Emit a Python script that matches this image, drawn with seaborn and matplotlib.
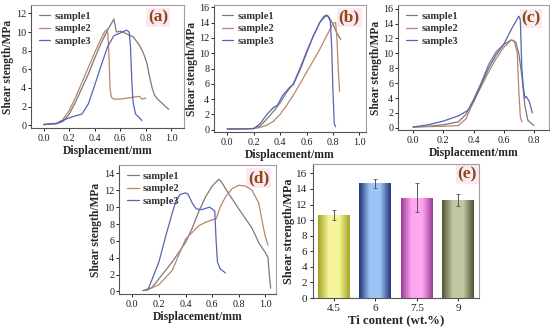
import numpy as np
import pandas as pd
import matplotlib
matplotlib.use("Agg")
import matplotlib.pyplot as plt
from matplotlib.ticker import MultipleLocator, FormatStrFormatter
from matplotlib.colors import LinearSegmentedColormap
import seaborn as sns

# ---------------- data ----------------
samples = ["sample1", "sample2", "sample3"]

# panel (a)
a_s1_x = [0.0, 0.1, 0.15, 0.2, 0.25, 0.3, 0.35, 0.4, 0.45, 0.5, 0.53, 0.55, 0.57, 0.6, 0.65, 0.7, 0.75, 0.78, 0.81, 0.83, 0.85, 0.87, 0.9, 0.94, 0.98]
a_s1_y = [0.05, 0.15, 0.4, 1.2, 2.5, 4.0, 5.5, 7.2, 8.8, 10.2, 10.9, 11.4, 10.0, 10.1, 9.8, 9.5, 8.6, 7.8, 6.6, 5.2, 4.0, 3.2, 2.7, 2.2, 1.7]
a_s2_x = [0.0, 0.1, 0.15, 0.2, 0.25, 0.3, 0.35, 0.4, 0.45, 0.48, 0.5, 0.51, 0.52, 0.53, 0.55, 0.6, 0.65, 0.7, 0.75, 0.77, 0.8]
a_s2_y = [0.05, 0.2, 0.6, 1.6, 3.0, 4.6, 6.2, 7.8, 9.3, 10.1, 10.3, 8.0, 4.0, 3.0, 2.8, 2.8, 2.9, 3.0, 3.1, 2.8, 2.9]
a_s3_x = [0.0, 0.1, 0.15, 0.2, 0.25, 0.3, 0.35, 0.4, 0.45, 0.5, 0.55, 0.6, 0.65, 0.67, 0.68, 0.69, 0.7, 0.72, 0.75, 0.77]
a_s3_y = [0.1, 0.2, 0.5, 0.8, 1.0, 1.2, 2.3, 4.3, 6.4, 8.4, 9.6, 9.9, 10.2, 10.0, 8.5, 5.0, 2.5, 1.2, 0.8, 0.5]

# panel (b)
b_s1_x = [0.0, 0.1, 0.2, 0.25, 0.3, 0.35, 0.4, 0.45, 0.5, 0.55, 0.6, 0.65, 0.7, 0.73, 0.75, 0.77, 0.8, 0.83, 0.86]
b_s1_y = [0.1, 0.1, 0.15, 0.5, 1.4, 2.4, 3.5, 4.9, 6.0, 8.0, 10.2, 12.2, 14.0, 14.8, 15.0, 14.7, 13.8, 12.6, 11.8]
b_s2_x = [0.0, 0.1, 0.2, 0.25, 0.3, 0.35, 0.4, 0.45, 0.5, 0.55, 0.6, 0.65, 0.7, 0.75, 0.78, 0.8, 0.82, 0.83, 0.84, 0.85]
b_s2_y = [0.1, 0.1, 0.15, 0.3, 0.6, 1.1, 2.0, 3.2, 4.5, 6.0, 7.5, 9.0, 10.5, 12.2, 13.2, 13.9, 14.0, 12.0, 8.0, 5.0]
b_s3_x = [0.0, 0.1, 0.2, 0.25, 0.3, 0.35, 0.38, 0.42, 0.47, 0.5, 0.55, 0.6, 0.65, 0.7, 0.74, 0.76, 0.78, 0.79, 0.8, 0.81, 0.82]
b_s3_y = [0.1, 0.1, 0.15, 0.8, 2.0, 2.9, 3.2, 4.5, 5.5, 5.9, 7.8, 10.0, 12.2, 14.0, 14.8, 14.9, 14.2, 11.0, 5.0, 0.8, 0.4]

# panel (c)
c_s1_x = [0.0, 0.1, 0.2, 0.3, 0.35, 0.4, 0.45, 0.5, 0.55, 0.6, 0.65, 0.68, 0.7, 0.72, 0.74, 0.76, 0.8]
c_s1_y = [0.1, 0.2, 0.4, 0.8, 1.8, 3.8, 6.0, 8.5, 10.2, 11.2, 11.8, 11.5, 10.0, 7.0, 3.0, 1.0, 0.3]
c_s2_x = [0.0, 0.2, 0.3, 0.35, 0.4, 0.45, 0.5, 0.55, 0.6, 0.65, 0.67, 0.69, 0.7, 0.71, 0.72]
c_s2_y = [0.1, 0.2, 0.3, 1.2, 3.5, 5.5, 7.5, 9.3, 10.8, 11.8, 11.7, 10.0, 5.0, 1.5, 0.8]
c_s3_x = [0.0, 0.1, 0.2, 0.3, 0.36, 0.4, 0.45, 0.5, 0.55, 0.6, 0.65, 0.7, 0.71, 0.72, 0.73, 0.74, 0.75, 0.77, 0.79]
c_s3_y = [0.1, 0.4, 0.9, 1.6, 2.3, 3.5, 5.8, 8.0, 9.8, 11.2, 13.2, 15.0, 14.5, 8.0, 5.5, 4.0, 4.2, 3.5, 2.0]

# panel (d)
d_s1_x = [0.1, 0.15, 0.2, 0.3, 0.4, 0.45, 0.5, 0.55, 0.6, 0.65, 0.67, 0.7, 0.75, 0.8, 0.9, 0.95, 1.0, 1.02, 1.03, 1.04]
d_s1_y = [0.1, 0.5, 1.5, 3.5, 5.8, 7.5, 9.5, 11.2, 12.5, 13.3, 13.0, 12.2, 11.0, 9.8, 7.5, 5.8, 4.6, 4.0, 2.0, 0.4]
d_s2_x = [0.1, 0.2, 0.3, 0.4, 0.45, 0.5, 0.55, 0.6, 0.63, 0.66, 0.7, 0.75, 0.8, 0.85, 0.9, 0.95, 0.98, 1.0, 1.02]
d_s2_y = [0.1, 0.8, 2.5, 6.2, 7.0, 7.8, 8.2, 8.5, 8.6, 10.0, 11.2, 12.2, 12.6, 12.5, 12.0, 10.5, 8.0, 6.5, 5.5]
d_s3_x = [0.08, 0.12, 0.15, 0.2, 0.25, 0.3, 0.33, 0.36, 0.4, 0.42, 0.45, 0.48, 0.52, 0.58, 0.6, 0.62, 0.63, 0.64, 0.66, 0.7]
d_s3_y = [0.1, 0.3, 1.5, 3.5, 6.5, 9.3, 10.8, 11.5, 11.7, 11.5, 10.5, 9.8, 9.7, 10.0, 9.8, 9.5, 6.0, 3.5, 2.7, 2.2]

# panel (e)
ti_content = ["4.5", "6", "7.5", "9"]
shear_mean = [10.7, 14.7, 12.9, 12.6]
shear_err = [0.65, 0.6, 1.8, 0.8]

line_colors = {"sample1": "#7a7a7a", "sample2": "#b8866a", "sample3": "#5664b4"}
bar_edges = ["#a4a21e", "#1f3278", "#9a3d96", "#4d5230"]
bar_centers = ["#f6f59a", "#9cc4f6", "#ffa6f2", "#c2c8a2"]

# ---------------- style ----------------
sns.set_theme(style="ticks")
plt.rcParams["font.family"] = ["Liberation Serif", "DejaVu Serif"]
plt.rcParams["axes.edgecolor"] = "#666666"

fig = plt.figure(figsize=(5.5, 3.28), dpi=100)
fig.patch.set_facecolor("white")

def px_axes(l, t, r, b):
    return fig.add_axes([l / 550, 1 - b / 328, (r - l) / 550, (b - t) / 328])

def long_df(xs, ys):
    rows = []
    for name, x, y in zip(samples, xs, ys):
        for i, (xi, yi) in enumerate(zip(x, y)):
            rows.append({"x": xi, "y": yi, "sample": name, "order": i})
    return pd.DataFrame(rows)

def frame(ax):
    for s in ["top", "right"]:
        ax.spines[s].set_visible(True)
        ax.spines[s].set_color("#a0a0a0")
    for s in ["left", "bottom"]:
        ax.spines[s].set_color("#555555")
    for s in ax.spines.values():
        s.set_linewidth(0.8)

def style_axes(ax, xlim, ylim, xmax_tick, ylabel, xlabel):
    ax.set_xlim(*xlim)
    ax.set_ylim(*ylim)
    ax.yaxis.set_major_locator(MultipleLocator(2))
    ax.set_xticks(np.round(np.arange(0, xmax_tick + 0.01, 0.2), 1))
    ax.xaxis.set_major_formatter(FormatStrFormatter("%.1f"))
    ax.yaxis.set_major_formatter(FormatStrFormatter("%d"))
    ax.tick_params(axis="both", direction="out", length=2.5, width=0.7,
                   labelsize=7.3, pad=1.5, colors="#222222", labelcolor="#222222")
    ax.tick_params(axis="y", pad=1)
    frame(ax)
    ax.set_xlabel(xlabel, fontsize=8.4, fontweight="bold", labelpad=2)
    ax.set_ylabel(ylabel, fontsize=8.3, fontweight="bold", labelpad=1)

def panel_label(ax, txt, x, y):
    ax.text(x, y, txt, transform=ax.transAxes, ha="center", va="center",
            fontsize=12.5, fontweight="bold", color="#8a4a14", zorder=0.5,
            bbox=dict(boxstyle="square,pad=0.1", fc="#fce8f2", ec="none"))

def line_panel(ax, xs, ys, xlim, ylim, xmax_tick, label, lx, ly):
    df = long_df(xs, ys)
    sns.lineplot(data=df, x="x", y="y", hue="sample", units="sample",
                 estimator=None, sort=False, palette=line_colors,
                 linewidth=0.9, ax=ax, legend=True, zorder=3)
    style_axes(ax, xlim, ylim, xmax_tick, "Shear stength/MPa", "Displacement/mm")
    leg = ax.legend(loc="upper left", frameon=False,
                    prop={"size": 7.6, "weight": "bold"},
                    handlelength=1.1, handletextpad=0.35, labelspacing=0.3,
                    borderaxespad=0.2, bbox_to_anchor=(0.01, 1.0))
    for t in leg.get_texts():
        t.set_color("#333333")
    panel_label(ax, label, lx, ly)

ax_a = px_axes(31, 5, 184, 128)
line_panel(ax_a, [a_s1_x, a_s2_x, a_s3_x], [a_s1_y, a_s2_y, a_s3_y],
           (-0.1, 1.1), (-0.3, 12.9), 1.0, "(a)", 0.83, 0.9)

ax_b = px_axes(214, 5, 366, 132)
line_panel(ax_b, [b_s1_x, b_s2_x, b_s3_x], [b_s1_y, b_s2_y, b_s3_y],
           (-0.1, 1.05), (-0.3, 16.3), 1.0, "(b)", 0.89, 0.9)

ax_c = px_axes(398, 5, 549, 130)
line_panel(ax_c, [c_s1_x, c_s2_x, c_s3_x], [c_s1_y, c_s2_y, c_s3_y],
           (-0.1, 0.9), (-0.3, 16.5), 0.8, "(c)", 0.88, 0.89)

ax_d = px_axes(119, 165, 276, 294)
line_panel(ax_d, [d_s1_x, d_s2_x, d_s3_x], [d_s1_y, d_s2_y, d_s3_y],
           (-0.1, 1.08), (-0.3, 15.0), 1.0, "(d)", 0.89, 0.9)

# ---------------- panel (e) ----------------
ax_e = px_axes(313, 164, 479, 298)
df_e = pd.DataFrame({"ti": ti_content, "mean": shear_mean, "err": shear_err})
sns.barplot(data=df_e, x="ti", y="mean", order=ti_content, ax=ax_e,
            width=0.76, errorbar=None, color="white", edgecolor="none")
for i, p in enumerate(ax_e.patches):
    x0, y0 = p.get_x(), p.get_y()
    w, h = p.get_width(), p.get_height()
    cmap = LinearSegmentedColormap.from_list(
        f"g{i}", [bar_edges[i], bar_centers[i], bar_centers[i], bar_edges[i]],
        N=256)
    grad = np.linspace(0, 1, 256).reshape(1, -1)
    im = ax_e.imshow(grad, cmap=cmap, aspect="auto",
                     extent=[x0, x0 + w, y0, y0 + h], zorder=2)
    im.set_clip_path(p)
    p.set_facecolor("none")
ax_e.set_xlim(-0.5, 3.5)
ax_e.set_ylim(0, 17.2)
ax_e.errorbar(x=np.arange(len(ti_content)), y=df_e["mean"], yerr=df_e["err"],
              fmt="none", ecolor="#555555", elinewidth=0.7, capsize=1.2,
              capthick=0.6, zorder=3)
ax_e.yaxis.set_major_locator(MultipleLocator(2))
ax_e.tick_params(axis="both", direction="out", length=2.5, width=0.7,
                 labelsize=8, pad=1.5, colors="#222222", labelcolor="#222222")
frame(ax_e)
ax_e.set_xlabel("Ti content (wt.%)", fontsize=9.2, fontweight="bold", labelpad=1)
ax_e.set_ylabel("Shear strength/MPa", fontsize=8.8, fontweight="bold", labelpad=1)
panel_label(ax_e, "(e)", 0.93, 0.92)

fig.savefig("out.png", dpi=100, facecolor="white")
